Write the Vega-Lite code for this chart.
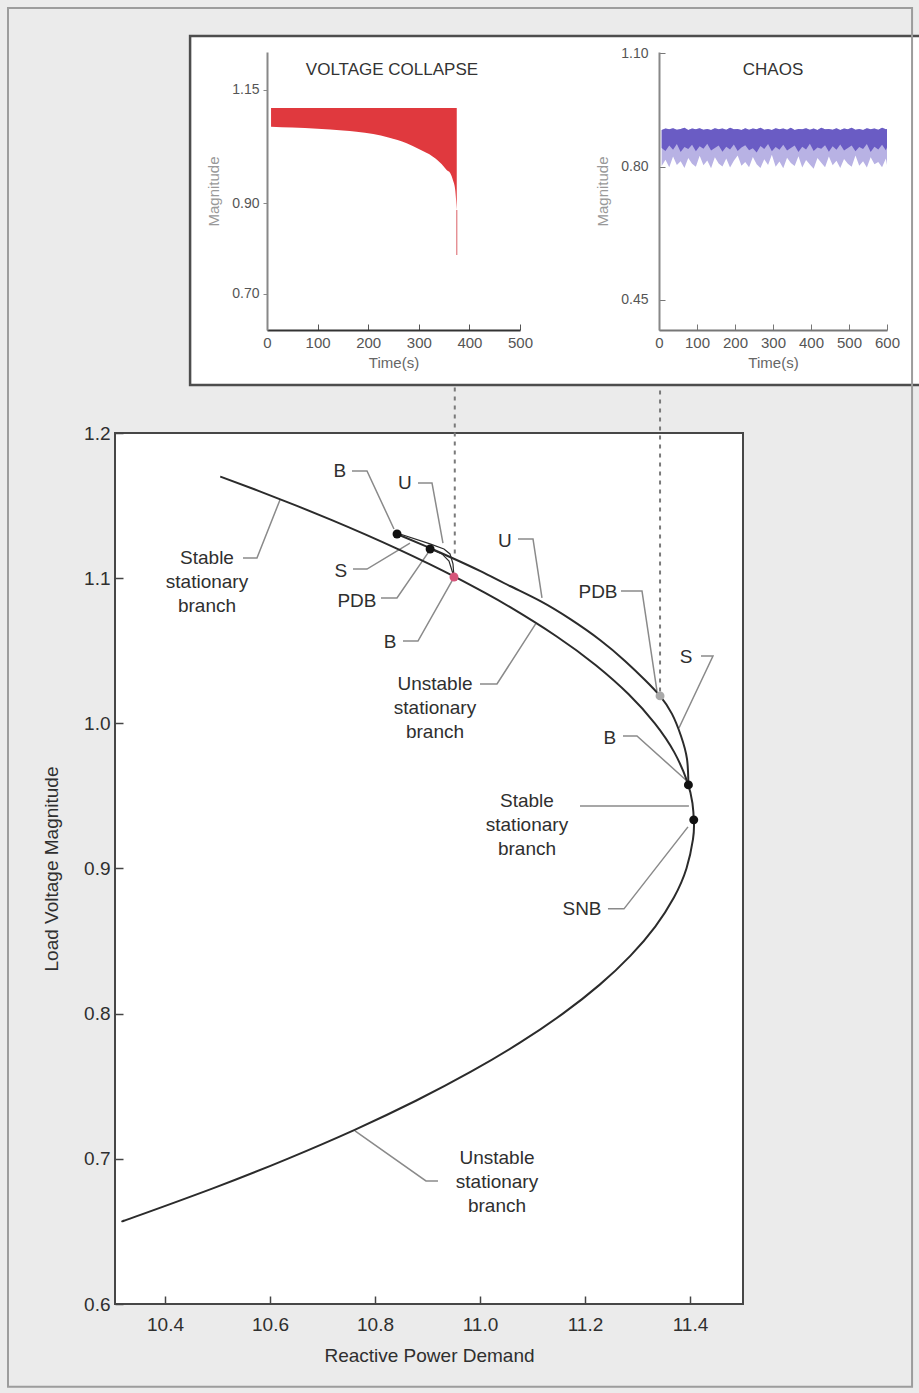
{
  "$schema": "https://vega.github.io/schema/vega-lite/v6.json",
  "background": "#ebebeb",
  "autosize": {"type": "none"},
  "padding": {"left": 115, "top": 52, "right": 804, "bottom": 1341},
  "config": {
    "font": "Liberation Sans",
    "view": {"stroke": null},
    "axis": {"grid": false, "titleFontWeight": "normal", "labelFlush": false, "labelOverlap": false}
  },
  "datasets": {
    "collapse": [
      {"t": 8, "hi": 1.1103, "lo": 1.069},
      {"t": 50, "hi": 1.1103, "lo": 1.0672},
      {"t": 100, "hi": 1.1103, "lo": 1.0643},
      {"t": 150, "hi": 1.1103, "lo": 1.0606},
      {"t": 177, "hi": 1.1103, "lo": 1.0579},
      {"t": 210, "hi": 1.1103, "lo": 1.0529},
      {"t": 240, "hi": 1.1103, "lo": 1.0451},
      {"t": 276, "hi": 1.1103, "lo": 1.0323},
      {"t": 300, "hi": 1.1103, "lo": 1.0197},
      {"t": 328, "hi": 1.1103, "lo": 1.0027},
      {"t": 345, "hi": 1.1103, "lo": 0.9866},
      {"t": 355, "hi": 1.1103, "lo": 0.9734},
      {"t": 362, "hi": 1.1103, "lo": 0.9667},
      {"t": 368, "hi": 1.1103, "lo": 0.9491},
      {"t": 372, "hi": 1.1103, "lo": 0.9292},
      {"t": 375, "hi": 1.1103, "lo": 0.8851}
    ],
    "collapseTail": [{"t": 375, "hi": 0.8851, "lo": 0.7857}],
    "chaos": [
      {"t": 7, "top": 0.897, "mid": 0.850, "low": 0.802},
      {"t": 17, "top": 0.901, "mid": 0.842, "low": 0.819},
      {"t": 27, "top": 0.899, "mid": 0.856, "low": 0.799},
      {"t": 37, "top": 0.902, "mid": 0.845, "low": 0.827},
      {"t": 47, "top": 0.898, "mid": 0.860, "low": 0.805},
      {"t": 57, "top": 0.900, "mid": 0.839, "low": 0.815},
      {"t": 67, "top": 0.903, "mid": 0.852, "low": 0.797},
      {"t": 77, "top": 0.897, "mid": 0.847, "low": 0.823},
      {"t": 87, "top": 0.901, "mid": 0.858, "low": 0.808},
      {"t": 97, "top": 0.899, "mid": 0.841, "low": 0.800},
      {"t": 107, "top": 0.902, "mid": 0.854, "low": 0.829},
      {"t": 117, "top": 0.898, "mid": 0.848, "low": 0.804},
      {"t": 127, "top": 0.900, "mid": 0.861, "low": 0.817},
      {"t": 137, "top": 0.897, "mid": 0.843, "low": 0.796},
      {"t": 147, "top": 0.902, "mid": 0.850, "low": 0.825},
      {"t": 157, "top": 0.899, "mid": 0.856, "low": 0.809},
      {"t": 167, "top": 0.901, "mid": 0.840, "low": 0.801},
      {"t": 177, "top": 0.898, "mid": 0.853, "low": 0.822},
      {"t": 187, "top": 0.903, "mid": 0.846, "low": 0.798},
      {"t": 197, "top": 0.899, "mid": 0.859, "low": 0.816},
      {"t": 207, "top": 0.900, "mid": 0.842, "low": 0.830},
      {"t": 217, "top": 0.897, "mid": 0.851, "low": 0.803},
      {"t": 227, "top": 0.902, "mid": 0.857, "low": 0.813},
      {"t": 237, "top": 0.898, "mid": 0.844, "low": 0.799},
      {"t": 247, "top": 0.901, "mid": 0.849, "low": 0.826},
      {"t": 257, "top": 0.899, "mid": 0.838, "low": 0.807},
      {"t": 267, "top": 0.903, "mid": 0.855, "low": 0.797},
      {"t": 277, "top": 0.898, "mid": 0.847, "low": 0.820},
      {"t": 287, "top": 0.900, "mid": 0.860, "low": 0.805},
      {"t": 297, "top": 0.897, "mid": 0.841, "low": 0.832},
      {"t": 307, "top": 0.902, "mid": 0.852, "low": 0.800},
      {"t": 317, "top": 0.899, "mid": 0.845, "low": 0.814},
      {"t": 327, "top": 0.901, "mid": 0.858, "low": 0.796},
      {"t": 337, "top": 0.898, "mid": 0.843, "low": 0.824},
      {"t": 347, "top": 0.903, "mid": 0.850, "low": 0.810},
      {"t": 357, "top": 0.897, "mid": 0.856, "low": 0.802},
      {"t": 367, "top": 0.900, "mid": 0.839, "low": 0.828},
      {"t": 377, "top": 0.899, "mid": 0.853, "low": 0.798},
      {"t": 387, "top": 0.902, "mid": 0.846, "low": 0.818},
      {"t": 397, "top": 0.898, "mid": 0.861, "low": 0.806},
      {"t": 407, "top": 0.901, "mid": 0.842, "low": 0.795},
      {"t": 417, "top": 0.897, "mid": 0.851, "low": 0.823},
      {"t": 427, "top": 0.903, "mid": 0.848, "low": 0.811},
      {"t": 437, "top": 0.899, "mid": 0.857, "low": 0.799},
      {"t": 447, "top": 0.900, "mid": 0.840, "low": 0.827},
      {"t": 457, "top": 0.898, "mid": 0.854, "low": 0.804},
      {"t": 467, "top": 0.902, "mid": 0.845, "low": 0.816},
      {"t": 477, "top": 0.897, "mid": 0.859, "low": 0.797},
      {"t": 487, "top": 0.901, "mid": 0.843, "low": 0.821},
      {"t": 497, "top": 0.899, "mid": 0.850, "low": 0.808},
      {"t": 507, "top": 0.903, "mid": 0.856, "low": 0.800},
      {"t": 517, "top": 0.898, "mid": 0.841, "low": 0.830},
      {"t": 527, "top": 0.900, "mid": 0.852, "low": 0.803},
      {"t": 537, "top": 0.897, "mid": 0.847, "low": 0.815},
      {"t": 547, "top": 0.902, "mid": 0.860, "low": 0.798},
      {"t": 557, "top": 0.899, "mid": 0.839, "low": 0.825},
      {"t": 567, "top": 0.901, "mid": 0.853, "low": 0.807},
      {"t": 577, "top": 0.898, "mid": 0.846, "low": 0.813},
      {"t": 587, "top": 0.903, "mid": 0.858, "low": 0.799},
      {"t": 597, "top": 0.899, "mid": 0.844, "low": 0.822},
      {"t": 600, "top": 0.900, "mid": 0.851, "low": 0.805}
    ],
    "curves": [
      {"branch": "stationary", "i": 1, "q": 10.5053, "v": 1.17},
      {"branch": "stationary", "i": 2, "q": 10.5793, "v": 1.16},
      {"branch": "stationary", "i": 3, "q": 10.6502, "v": 1.15},
      {"branch": "stationary", "i": 4, "q": 10.7179, "v": 1.14},
      {"branch": "stationary", "i": 5, "q": 10.7824, "v": 1.13},
      {"branch": "stationary", "i": 6, "q": 10.8438, "v": 1.12},
      {"branch": "stationary", "i": 7, "q": 10.902, "v": 1.11},
      {"branch": "stationary", "i": 8, "q": 10.957, "v": 1.1},
      {"branch": "stationary", "i": 9, "q": 11.0089, "v": 1.09},
      {"branch": "stationary", "i": 10, "q": 11.0576, "v": 1.08},
      {"branch": "stationary", "i": 11, "q": 11.1455, "v": 1.06},
      {"branch": "stationary", "i": 12, "q": 11.2207, "v": 1.04},
      {"branch": "stationary", "i": 13, "q": 11.2832, "v": 1.02},
      {"branch": "stationary", "i": 14, "q": 11.333, "v": 1.0},
      {"branch": "stationary", "i": 15, "q": 11.3702, "v": 0.98},
      {"branch": "stationary", "i": 16, "q": 11.3946, "v": 0.96},
      {"branch": "stationary", "i": 17, "q": 11.4047, "v": 0.945},
      {"branch": "stationary", "i": 18, "q": 11.4076, "v": 0.9314},
      {"branch": "stationary", "i": 19, "q": 11.4057, "v": 0.92},
      {"branch": "stationary", "i": 20, "q": 11.3933, "v": 0.9},
      {"branch": "stationary", "i": 21, "q": 11.3694, "v": 0.88},
      {"branch": "stationary", "i": 22, "q": 11.3339, "v": 0.86},
      {"branch": "stationary", "i": 23, "q": 11.2868, "v": 0.84},
      {"branch": "stationary", "i": 24, "q": 11.2282, "v": 0.82},
      {"branch": "stationary", "i": 25, "q": 11.1579, "v": 0.8},
      {"branch": "stationary", "i": 26, "q": 11.0761, "v": 0.78},
      {"branch": "stationary", "i": 27, "q": 10.9828, "v": 0.76},
      {"branch": "stationary", "i": 28, "q": 10.8779, "v": 0.74},
      {"branch": "stationary", "i": 29, "q": 10.7614, "v": 0.72},
      {"branch": "stationary", "i": 30, "q": 10.6333, "v": 0.7},
      {"branch": "stationary", "i": 31, "q": 10.4937, "v": 0.68},
      {"branch": "stationary", "i": 32, "q": 10.3425, "v": 0.66},
      {"branch": "stationary", "i": 33, "q": 10.3228, "v": 0.6575},
      {"branch": "periodic", "i": 1, "q": 10.8419, "v": 1.1304},
      {"branch": "periodic", "i": 2, "q": 10.8952, "v": 1.1222},
      {"branch": "periodic", "i": 3, "q": 10.9429, "v": 1.1146},
      {"branch": "periodic", "i": 4, "q": 11.0, "v": 1.105},
      {"branch": "periodic", "i": 5, "q": 11.0571, "v": 1.0946},
      {"branch": "periodic", "i": 6, "q": 11.1143, "v": 1.0843},
      {"branch": "periodic", "i": 7, "q": 11.1714, "v": 1.0719},
      {"branch": "periodic", "i": 8, "q": 11.2286, "v": 1.0574},
      {"branch": "periodic", "i": 9, "q": 11.2762, "v": 1.043},
      {"branch": "periodic", "i": 10, "q": 11.3143, "v": 1.0299},
      {"branch": "periodic", "i": 11, "q": 11.3429, "v": 1.0189},
      {"branch": "periodic", "i": 12, "q": 11.3657, "v": 1.0065},
      {"branch": "periodic", "i": 13, "q": 11.3829, "v": 0.9913},
      {"branch": "periodic", "i": 14, "q": 11.3943, "v": 0.9755},
      {"branch": "periodic", "i": 15, "q": 11.397, "v": 0.9576},
      {"branch": "loopA", "i": 1, "q": 10.8419, "v": 1.1311},
      {"branch": "loopA", "i": 2, "q": 10.9048, "v": 1.1236},
      {"branch": "loopA", "i": 3, "q": 10.9314, "v": 1.1201},
      {"branch": "loopA", "i": 4, "q": 10.9429, "v": 1.1167},
      {"branch": "loopA", "i": 5, "q": 10.9486, "v": 1.1098},
      {"branch": "loopA", "i": 6, "q": 10.9505, "v": 1.1008},
      {"branch": "loopB", "i": 1, "q": 10.9048, "v": 1.1201},
      {"branch": "loopB", "i": 2, "q": 10.9276, "v": 1.1167},
      {"branch": "loopB", "i": 3, "q": 10.941, "v": 1.1118},
      {"branch": "loopB", "i": 4, "q": 10.9505, "v": 1.1008}
    ],
    "points": [
      {"kind": "bifurcation", "q": 10.842, "v": 1.1304},
      {"kind": "bifurcation", "q": 10.905, "v": 1.1201},
      {"kind": "collapse", "q": 10.9505, "v": 1.1008},
      {"kind": "chaos", "q": 11.343, "v": 1.0189},
      {"kind": "bifurcation", "q": 11.397, "v": 0.9576},
      {"kind": "bifurcation", "q": 11.4072, "v": 0.9335}
    ],
    "dashes": [
      {"inset": "collapse", "q": 10.952, "v1": 1.117, "v2": 1.2324},
      {"inset": "chaos", "q": 11.343, "v1": 1.022, "v2": 1.2324}
    ],
    "leaders": [
      {"id": 1, "i": 1, "q": 10.7562, "v": 1.1738}, {"id": 1, "i": 2, "q": 10.7848, "v": 1.1738}, {"id": 1, "i": 3, "q": 10.8362, "v": 1.1339},
      {"id": 2, "i": 1, "q": 10.8819, "v": 1.1656}, {"id": 2, "i": 2, "q": 10.9086, "v": 1.1656}, {"id": 2, "i": 3, "q": 10.9295, "v": 1.1242},
      {"id": 3, "i": 1, "q": 11.0724, "v": 1.127}, {"id": 3, "i": 2, "q": 11.101, "v": 1.127}, {"id": 3, "i": 3, "q": 11.1181, "v": 1.0864},
      {"id": 4, "i": 1, "q": 10.7581, "v": 1.1063}, {"id": 4, "i": 2, "q": 10.7848, "v": 1.1063}, {"id": 4, "i": 3, "q": 10.8667, "v": 1.1242},
      {"id": 5, "i": 1, "q": 10.8114, "v": 1.0864}, {"id": 5, "i": 2, "q": 10.8419, "v": 1.0864}, {"id": 5, "i": 3, "q": 10.901, "v": 1.1174},
      {"id": 6, "i": 1, "q": 10.8533, "v": 1.0567}, {"id": 6, "i": 2, "q": 10.8819, "v": 1.0567}, {"id": 6, "i": 3, "q": 10.9467, "v": 1.0981},
      {"id": 7, "i": 1, "q": 11.2686, "v": 1.0912}, {"id": 7, "i": 2, "q": 11.3086, "v": 1.0912}, {"id": 7, "i": 3, "q": 11.3371, "v": 1.0223},
      {"id": 8, "i": 1, "q": 11.421, "v": 1.0464}, {"id": 8, "i": 2, "q": 11.4438, "v": 1.0464}, {"id": 8, "i": 3, "q": 11.379, "v": 0.9968},
      {"id": 9, "i": 1, "q": 11.2724, "v": 0.9913}, {"id": 9, "i": 2, "q": 11.299, "v": 0.9913}, {"id": 9, "i": 3, "q": 11.3943, "v": 0.9603},
      {"id": 10, "i": 1, "q": 11.1905, "v": 0.9431}, {"id": 10, "i": 2, "q": 11.398, "v": 0.9431},
      {"id": 11, "i": 1, "q": 11.2438, "v": 0.8722}, {"id": 11, "i": 2, "q": 11.2743, "v": 0.8722}, {"id": 11, "i": 3, "q": 11.3962, "v": 0.9287},
      {"id": 12, "i": 1, "q": 11.0, "v": 1.0271}, {"id": 12, "i": 2, "q": 11.0324, "v": 1.0271}, {"id": 12, "i": 3, "q": 11.106, "v": 1.0685},
      {"id": 13, "i": 1, "q": 10.5486, "v": 1.1139}, {"id": 13, "i": 2, "q": 10.5752, "v": 1.1139}, {"id": 13, "i": 3, "q": 10.619, "v": 1.1539},
      {"id": 14, "i": 1, "q": 10.7619, "v": 0.7193}, {"id": 14, "i": 2, "q": 10.8971, "v": 0.6848}, {"id": 14, "i": 3, "q": 10.92, "v": 0.6848}
    ],
    "labels": [
      {"label": "B", "q": 10.7333, "v": 1.1738},
      {"label": "U", "q": 10.8571, "v": 1.1656},
      {"label": "U", "q": 11.0476, "v": 1.1256},
      {"label": "S", "q": 10.7352, "v": 1.105},
      {"label": "PDB", "q": 10.7657, "v": 1.0843},
      {"label": "B", "q": 10.8286, "v": 1.0561},
      {"label": "PDB", "q": 11.2248, "v": 1.0905},
      {"label": "S", "q": 11.3924, "v": 1.0457},
      {"label": "B", "q": 11.2476, "v": 0.99},
      {"label": "Stable\nstationary\nbranch", "q": 11.0895, "v": 0.9466},
      {"label": "SNB", "q": 11.1943, "v": 0.8722},
      {"label": "Unstable\nstationary\nbranch", "q": 10.9143, "v": 1.0271},
      {"label": "Stable\nstationary\nbranch", "q": 10.48, "v": 1.1139},
      {"label": "Unstable\nstationary\nbranch", "q": 11.0324, "v": 0.7007}
    ]
  },
  "bounds": "full",
  "spacing": -381,
  "vconcat": [
    {
      "bounds": "flush",
      "spacing": 139,
      "hconcat": [
        {
          "width": 13,
          "height": 278,
          "data": {"values": [{}]},
          "mark": {"type": "point", "opacity": 0},
          "encoding": {}
        },
        {
          "width": 253,
          "height": 278,
          "layer": [
            {
              "data": {"values": [{}]},
              "mark": {"type": "rect", "fill": "#ffffff", "stroke": "#4d4d4d", "strokeWidth": 2.5},
              "encoding": {
                "x": {"datum": -152, "type": "quantitative", "scale": {"domain": [0, 500], "nice": false, "zero": false}},
                "x2": {"datum": 1310},
                "y": {"datum": 1.2692, "type": "quantitative", "scale": {"domain": [0.6201, 1.2339], "nice": false, "zero": false}},
                "y2": {"datum": 0.4987}
              }
            },
            {
              "data": {"name": "collapse"},
              "mark": {"type": "area", "color": "#e0393e", "interpolate": "monotone"},
              "encoding": {
                "x": {"field": "t", "type": "quantitative", "scale": {"domain": [0, 500], "nice": false, "zero": false},
                  "axis": {"zindex": 1, "values": [0, 100, 200, 300, 400, 500], "tickCount": 20, "labelOverlap": false, "title": "Time(s)", "domainColor": "#333333", "domainWidth": 2, "tickSize": -6, "tickColor": "#555555", "labelFontSize": 15, "labelColor": "#555555", "labelPadding": 11, "titleFontSize": 15, "titleColor": "#666666", "titlePadding": 5}},
                "y": {"field": "hi", "type": "quantitative", "scale": {"domain": [0.6201, 1.2339], "nice": false, "zero": false},
                  "axis": {"zindex": 1, "values": [0.7, 0.9, 1.15], "tickCount": 20, "labelOverlap": false, "format": ".2f", "title": "Magnitude", "domainColor": "#888888", "domainWidth": 2, "tickSize": 4, "tickColor": "#888888", "labelFontSize": 14, "labelColor": "#555555", "labelPadding": 4, "titleFontSize": 15, "titleColor": "#999999", "titlePadding": 10}},
                "y2": {"field": "lo"}
              }
            },
            {
              "data": {"name": "collapseTail"},
              "mark": {"type": "rule", "color": "#e3868a", "strokeWidth": 1.3},
              "encoding": {
                "x": {"field": "t", "type": "quantitative"},
                "y": {"field": "hi", "type": "quantitative"},
                "y2": {"field": "lo"}
              }
            },
            {
              "data": {"values": [{}]},
              "mark": {"type": "text", "text": "VOLTAGE COLLAPSE", "fontSize": 17, "color": "#333333"},
              "encoding": {
                "x": {"datum": 247, "type": "quantitative"},
                "y": {"datum": 1.1942, "type": "quantitative"}
              }
            }
          ]
        },
        {
          "width": 228,
          "height": 278,
          "layer": [
            {
              "data": {"name": "chaos"},
              "mark": {"type": "area", "color": "#b8b2e4"},
              "encoding": {
                "x": {"field": "t", "type": "quantitative", "scale": {"domain": [0, 600], "nice": false, "zero": false},
                  "axis": {"zindex": 1, "values": [0, 100, 200, 300, 400, 500, 600], "tickCount": 20, "labelOverlap": false, "title": "Time(s)", "domainColor": "#777777", "domainWidth": 2, "tickSize": -6, "tickColor": "#777777", "labelFontSize": 15, "labelColor": "#555555", "labelPadding": 11, "titleFontSize": 15, "titleColor": "#666666", "titlePadding": 5}},
                "y": {"field": "top", "type": "quantitative", "scale": {"domain": [0.37, 1.1027], "nice": false, "zero": false},
                  "axis": {"zindex": 1, "values": [0.45, 0.8, 1.1], "tickCount": 20, "labelOverlap": false, "format": ".2f", "title": "Magnitude", "domainColor": "#888888", "domainWidth": 2, "tickSize": -6, "tickColor": "#777777", "labelFontSize": 14, "labelColor": "#555555", "labelPadding": 17, "titleFontSize": 15, "titleColor": "#999999", "titlePadding": 10}},
                "y2": {"field": "low"}
              }
            },
            {
              "data": {"name": "chaos"},
              "mark": {"type": "area", "color": "#6a5cc4"},
              "encoding": {
                "x": {"field": "t", "type": "quantitative"},
                "y": {"field": "top", "type": "quantitative"},
                "y2": {"field": "mid"}
              }
            },
            {
              "data": {"values": [{}]},
              "mark": {"type": "text", "text": "CHAOS", "fontSize": 17, "color": "#333333"},
              "encoding": {
                "x": {"datum": 300, "type": "quantitative"},
                "y": {"datum": 1.0553, "type": "quantitative"}
              }
            }
          ]
        }
      ]
    },
    {
      "width": 628,
      "height": 871,
      "view": {"fill": "#ffffff", "stroke": "#474747", "strokeWidth": 2},
      "layer": [
        {
          "data": {"values": [{}]},
          "mark": {"type": "rect", "filled": false, "color": "#9c9c9c", "strokeWidth": 2},
          "encoding": {
            "x": {"datum": 10.101, "type": "quantitative", "scale": {"domain": [10.3048, 11.501], "nice": false, "zero": false}},
            "x2": {"datum": 11.823},
            "y": {"datum": 1.4927, "type": "quantitative", "scale": {"domain": [0.6, 1.2], "nice": false, "zero": false}},
            "y2": {"datum": 0.543}
          }
        },
        {
          "data": {"name": "dashes"},
          "mark": {"type": "rule", "color": "#7a7a7a", "strokeWidth": 2, "strokeDash": [4, 5]},
          "encoding": {
            "x": {"field": "q", "type": "quantitative"},
            "y": {"field": "v1", "type": "quantitative"},
            "y2": {"field": "v2"}
          }
        },
        {
          "data": {"name": "leaders"},
          "mark": {"type": "line", "color": "#8a8a8a", "strokeWidth": 1.5},
          "encoding": {
            "x": {"field": "q", "type": "quantitative"},
            "y": {"field": "v", "type": "quantitative"},
            "detail": {"field": "id", "type": "nominal"},
            "order": {"field": "i", "type": "quantitative"}
          }
        },
        {
          "data": {"name": "curves"},
          "transform": [{"filter": {"field": "branch", "oneOf": ["stationary", "periodic"]}}],
          "mark": {"type": "line", "color": "#2b2b2b", "strokeWidth": 2, "interpolate": "natural"},
          "encoding": {
            "x": {"field": "q", "type": "quantitative", "scale": {"domain": [10.3048, 11.501], "nice": false, "zero": false},
              "axis": {"values": [10.4, 10.6, 10.8, 11.0, 11.2, 11.4], "tickCount": 20, "format": ".1f", "title": "Reactive Power Demand", "domain": false, "tickSize": -8, "tickWidth": 1.5, "tickColor": "#444444", "labelFontSize": 19, "labelColor": "#2f2f2f", "labelPadding": 19, "titleFontSize": 19, "titleColor": "#2f2f2f", "titlePadding": 12}},
            "y": {"field": "v", "type": "quantitative", "scale": {"domain": [0.6, 1.2], "nice": false, "zero": false},
              "axis": {"values": [0.6, 0.7, 0.8, 0.9, 1.0, 1.1, 1.2], "tickCount": 20, "format": ".1f", "title": "Load Voltage Magnitude", "domain": false, "tickSize": -8, "tickWidth": 1.5, "tickColor": "#444444", "labelFontSize": 19, "labelColor": "#2f2f2f", "labelPadding": 13, "titleFontSize": 19, "titleColor": "#2f2f2f", "titlePadding": 22}},
            "detail": {"field": "branch", "type": "nominal"},
            "order": {"field": "i", "type": "quantitative"}
          }
        },
        {
          "data": {"name": "curves"},
          "transform": [{"filter": {"field": "branch", "oneOf": ["loopA", "loopB"]}}],
          "mark": {"type": "line", "color": "#2b2b2b", "strokeWidth": 1.2},
          "encoding": {
            "x": {"field": "q", "type": "quantitative"},
            "y": {"field": "v", "type": "quantitative"},
            "detail": {"field": "branch", "type": "nominal"},
            "order": {"field": "i", "type": "quantitative"}
          }
        },
        {
          "data": {"name": "points"},
          "mark": {"type": "circle", "opacity": 1},
          "encoding": {
            "x": {"field": "q", "type": "quantitative"},
            "y": {"field": "v", "type": "quantitative"},
            "color": {"field": "kind", "type": "nominal", "scale": {"domain": ["bifurcation", "collapse", "chaos"], "range": ["#111111", "#d6557a", "#a9a9a9"]}, "legend": null},
            "size": {"value": 80}
          }
        },
        {
          "data": {"name": "labels"},
          "mark": {"type": "text", "fontSize": 19, "color": "#2f2f2f", "lineBreak": "\n", "lineHeight": 24, "align": "center", "baseline": "middle"},
          "encoding": {
            "x": {"field": "q", "type": "quantitative"},
            "y": {"field": "v", "type": "quantitative"},
            "text": {"field": "label"}
          }
        }
      ]
    }
  ]
}
